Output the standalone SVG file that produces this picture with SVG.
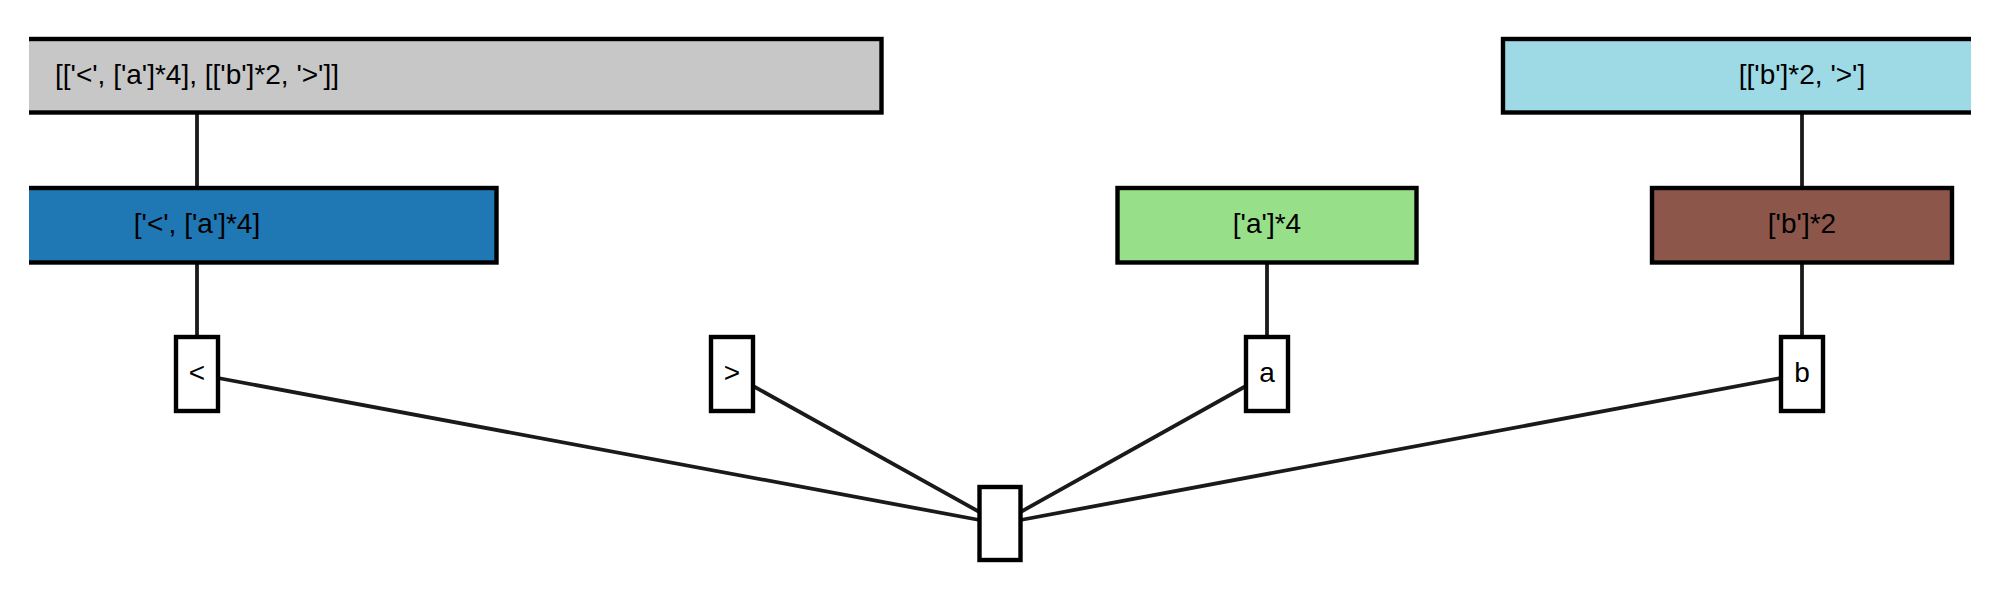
<svg xmlns="http://www.w3.org/2000/svg" width="2000" height="600" viewBox="0 0 2000 600">
<style>
.box{stroke:#000;stroke-width:4.4}
.leaf{fill:#fff;stroke:#000;stroke-width:4.4}
.lbl{font-family:"Liberation Sans",Arial,sans-serif;font-size:28px;fill:#000;text-anchor:middle;dominant-baseline:central}
.edge{stroke:#1a1a1a;stroke-width:3.8;fill:none}
</style>
<defs>
<clipPath id="area"><rect x="29" y="0" width="1942" height="600"/></clipPath>
</defs>
<rect width="2000" height="600" fill="#fff"/>
<g id="connectors">
<line class="edge" x1="197" y1="112.5" x2="197" y2="188"/>
<line class="edge" x1="197" y1="262.5" x2="197" y2="337"/>
<line class="edge" x1="1267" y1="262.5" x2="1267" y2="337"/>
<line class="edge" x1="1802" y1="112.5" x2="1802" y2="188"/>
<line class="edge" x1="1802" y1="262.5" x2="1802" y2="337"/>
<line class="edge" x1="218" y1="378" x2="979.5" y2="520"/>
<line class="edge" x1="753" y1="386" x2="979.5" y2="512"/>
<line class="edge" x1="1246" y1="386" x2="1020.5" y2="512"/>
<line class="edge" x1="1781" y1="378" x2="1020.5" y2="520"/>
</g>
<g clip-path="url(#area)">
<g id="root">
<rect class="box" x="-487.5" y="39" width="1369" height="73.5" fill="#c7c7c7"/>
<text class="lbl" x="197" y="74.5">[['&lt;', ['a']*4], [['b']*2, '&gt;']]</text>
</g>
<g id="right">
<rect class="box" x="1503" y="39" width="598" height="73.5" fill="#9edae5"/>
<text class="lbl" x="1802" y="74.5">[['b']*2, '&gt;']</text>
</g>
<g id="left">
<rect class="box" x="-102.5" y="188" width="599" height="74.5" fill="#1f77b4"/>
<text class="lbl" x="197" y="223.5">['&lt;', ['a']*4]</text>
</g>
<g id="a4">
<rect class="box" x="1117.5" y="188" width="299" height="74.5" fill="#98df8a"/>
<text class="lbl" x="1267" y="223.5">['a']*4</text>
</g>
<g id="b2">
<rect class="box" x="1652" y="188" width="300" height="74.5" fill="#8c564b"/>
<text class="lbl" x="1802" y="223.5">['b']*2</text>
</g>
</g>
<g id="lt">
<rect class="leaf" x="176" y="337" width="42" height="74"/>
<text class="lbl" x="197" y="372.5">&lt;</text>
</g>
<g id="gt">
<rect class="leaf" x="711" y="337" width="42" height="74"/>
<text class="lbl" x="732" y="372.5">&gt;</text>
</g>
<g id="a">
<rect class="leaf" x="1246" y="337" width="42" height="74"/>
<text class="lbl" x="1267" y="372.5">a</text>
</g>
<g id="b">
<rect class="leaf" x="1781" y="337" width="42" height="74"/>
<text class="lbl" x="1802" y="372.5">b</text>
</g>
<g id="empty">
<rect class="leaf" x="979.5" y="487" width="41" height="73"/>
</g>
</svg>
